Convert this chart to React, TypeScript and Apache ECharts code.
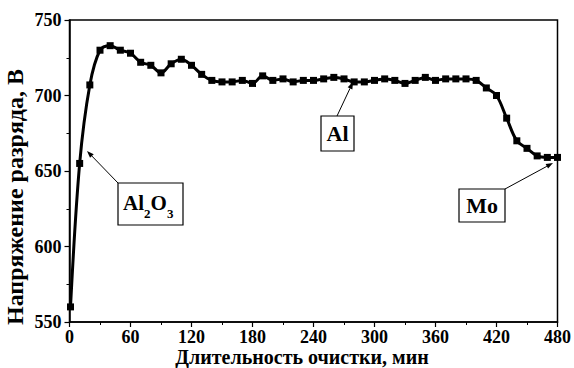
import { useEffect, useRef } from "react";
import * as echarts from "echarts";

// Cleaning time, minutes
const minutes = [
  1, 10, 20, 30, 40, 50, 60, 70, 80, 90, 100, 110, 120, 130, 140, 150, 160, 170,
  180, 190, 200, 210, 220, 230, 240, 250, 260, 270, 280, 290, 300, 310, 320, 330,
  340, 350, 360, 370, 380, 390, 400, 410, 420, 430, 440, 450, 460, 470, 480,
];

// Discharge voltage, V
const voltage = [
  560, 655, 707, 730, 733, 730, 728, 722, 720, 715, 721, 724, 720, 714, 710, 709,
  709, 710, 708, 713, 710, 711, 709, 710, 710, 711, 712, 711, 709, 709, 710, 711,
  710, 708, 710, 712, 710, 711, 711, 711, 710, 705, 700, 685, 670, 665, 660, 659,
  659,
];

const xTitle = "Длительность очистки, мин";
const yTitle = "Напряжение разряда, В";

const FONT = "'Liberation Serif', 'Times New Roman', serif";

// Straight arrow with a small filled head at (x2, y2)
function arrow(x1: number, y1: number, x2: number, y2: number) {
  const head = 7;
  const half = 2.6;
  const len = Math.hypot(x2 - x1, y2 - y1);
  const ux = (x2 - x1) / len;
  const uy = (y2 - y1) / len;
  const bx = x2 - ux * head;
  const by = y2 - uy * head;
  return [
    {
      type: "line",
      shape: { x1, y1, x2: bx, y2: by },
      style: { stroke: "#000", lineWidth: 1 },
      z: 100,
    },
    {
      type: "polygon",
      shape: {
        points: [
          [x2, y2],
          [bx - uy * half, by + ux * half],
          [bx + uy * half, by - ux * half],
        ],
      },
      style: { fill: "#000" },
      z: 100,
    },
  ];
}

function box(x: number, y: number, w: number, h: number) {
  return {
    type: "rect",
    shape: { x, y, width: w, height: h },
    style: { fill: "#fff", stroke: "#000", lineWidth: 1.2 },
    z: 100,
  };
}

function label(text: string, x: number, y: number, size: number, align = "left") {
  return {
    type: "text",
    x,
    y,
    style: {
      text,
      fill: "#000",
      font: `bold ${size}px ${FONT}`,
      textAlign: align,
      textVerticalAlign: "middle",
    },
    z: 101,
  };
}

export default function App() {
  const ref = useRef<HTMLDivElement>(null);

  useEffect(() => {
    if (!ref.current) return;
    const chart = echarts.init(ref.current, null, { renderer: "svg" });

    const points = minutes.map((m, i) => [m, voltage[i]]);

    const axisCommon = {
      axisLine: { show: true, lineStyle: { color: "#000", width: 1.5 } },
      axisTick: { show: true, inside: false, length: 5, lineStyle: { color: "#000", width: 1.2 } },
      minorTick: { show: true, splitNumber: 2, length: 3, lineStyle: { color: "#000", width: 1 } },
      splitLine: { show: false },
      minorSplitLine: { show: false },
      axisLabel: {
        color: "#000",
        fontFamily: FONT,
        fontWeight: "bold",
        fontSize: 18,
      },
    };

    chart.setOption({
      animation: false,
      backgroundColor: "#fff",
      grid: {
        left: 69.5,
        right: 12.5,
        top: 20,
        bottom: 46,
        show: true,
        borderColor: "#000",
        borderWidth: 1.5,
        backgroundColor: "transparent",
      },
      xAxis: {
        type: "value",
        min: 0,
        max: 480,
        interval: 60,
        ...axisCommon,
        axisLabel: { ...axisCommon.axisLabel, margin: 6 },
      },
      yAxis: {
        type: "value",
        min: 550,
        max: 750,
        interval: 50,
        ...axisCommon,
        axisLabel: { ...axisCommon.axisLabel, margin: 8 },
      },
      series: [
        {
          type: "line",
          data: points,
          smooth: 0.35,
          symbol: "rect",
          symbolSize: 7,
          showSymbol: true,
          lineStyle: { color: "#000", width: 3 },
          itemStyle: { color: "#000" },
          z: 5,
        },
      ],
      graphic: [
        // axis titles
        {
          type: "text",
          x: 302,
          y: 357,
          style: {
            text: xTitle,
            fill: "#000",
            font: `bold 20px ${FONT}`,
            textAlign: "center",
            textVerticalAlign: "middle",
          },
        },
        {
          type: "text",
          x: 15,
          y: 197,
          rotation: Math.PI / 2,
          style: {
            text: yTitle,
            fill: "#000",
            font: `bold 24px ${FONT}`,
            textAlign: "center",
            textVerticalAlign: "middle",
          },
        },
        // Al2O3 annotation
        ...arrow(118, 183, 87, 151),
        box(118, 183, 65, 42),
        label("Al", 123, 202.5, 21),
        label("2", 144, 213, 13),
        label("O", 150.5, 202.5, 21),
        label("3", 167, 213, 13),
        // Al annotation
        ...arrow(337, 116, 353, 82),
        box(321, 116, 33, 35),
        label("Al", 337.5, 133.5, 22, "center"),
        // Mo annotation
        ...arrow(505, 189, 553, 163),
        box(459, 189, 46, 33),
        label("Mo", 482, 205.5, 22, "center"),
      ],
    });

    return () => chart.dispose();
  }, []);

  return (
    <div
      ref={ref}
      style={{ position: "fixed", left: 0, top: 0, width: 574, height: 368 }}
    />
  );
}
